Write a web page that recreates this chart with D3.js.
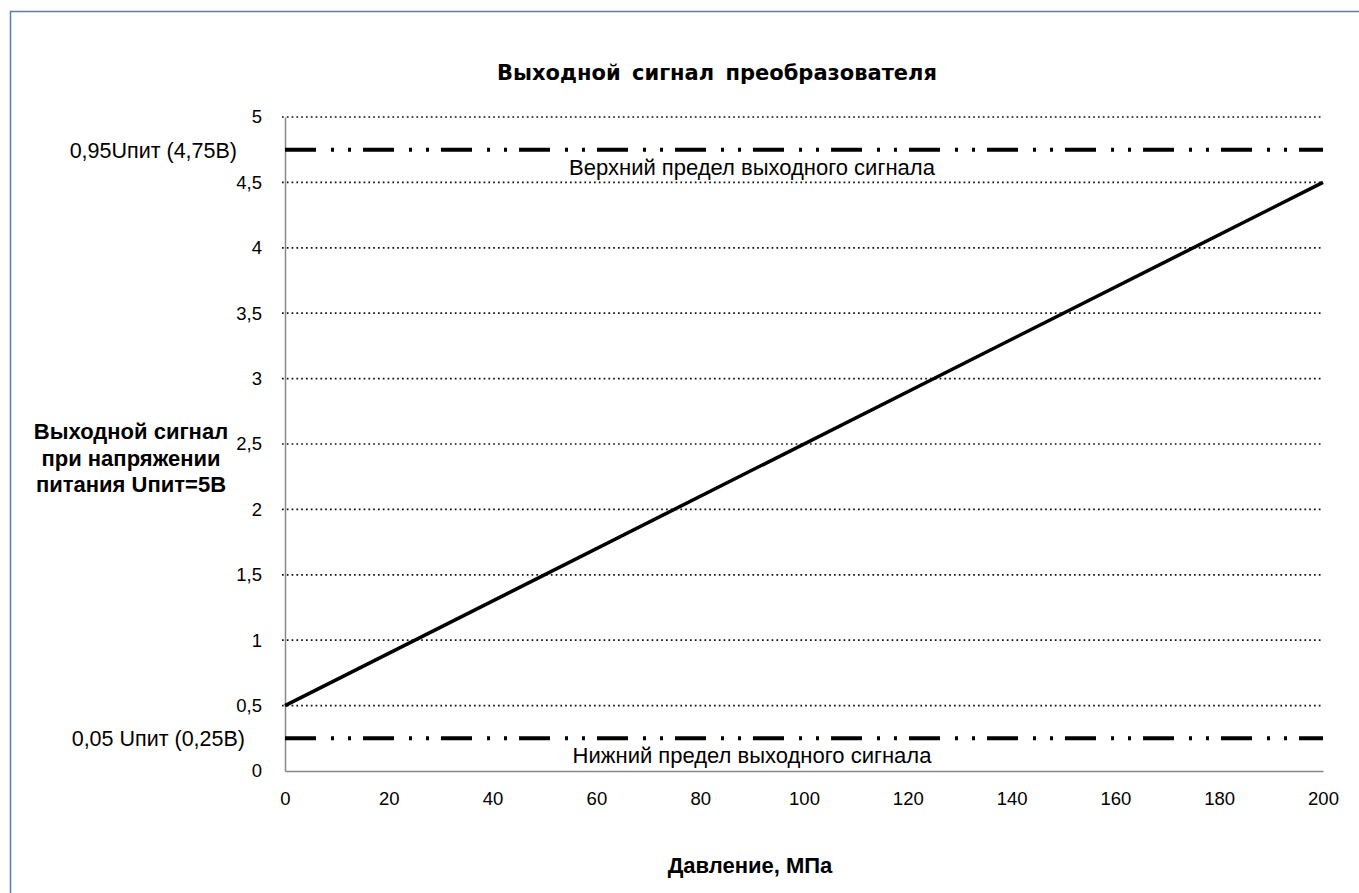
<!DOCTYPE html>
<html><head><meta charset="utf-8">
<script src="https://cdn.jsdelivr.net/npm/d3@7"></script>
<style>
html,body{margin:0;padding:0;background:#fff;}
svg{display:block;}
</style></head>
<body>
<svg id="chart" width="1359" height="893"></svg>
<script>
const title = "Выходной сигнал преобразователя";
const xTitle = "Давление, МПа";
const yTitleLines = ["Выходной сигнал", "при напряжении", "питания Uпит=5В"];
const pressure = [0, 200];
const signal = [0.5, 4.5];
const xTicks = [0, 20, 40, 60, 80, 100, 120, 140, 160, 180, 200];
const yTicks = [0, 0.5, 1, 1.5, 2, 2.5, 3, 3.5, 4, 4.5, 5];
const limitValues = [4.75, 0.25];
const limitAxisLabels = ["0,95Uпит (4,75В)", "0,05 Uпит (0,25В)"];
const limitNames = ["Верхний предел выходного сигнала", "Нижний предел выходного сигнала"];

const svg = d3.select("#chart");
const font = "'Liberation Sans', Arial, sans-serif";
const m = {left: 285, right: 1323, top: 117, bottom: 771};
const x = d3.scaleLinear().domain([0, 200]).range([m.left, m.right]);
const y = d3.scaleLinear().domain([0, 5]).range([m.bottom, m.top]);

// outer border
svg.append("rect").attr("x", 10.5).attr("y", 11.5).attr("width", 1400).attr("height", 1000)
  .attr("fill", "none").attr("stroke", "#4F81BD").attr("stroke-width", 1.5);

// gridlines
svg.append("g").selectAll("line").data(yTicks.filter(d => d > 0)).join("line")
  .attr("x1", m.left - 3).attr("x2", m.right).attr("y1", d => y(d)).attr("y2", d => y(d))
  .attr("stroke", "#111").attr("stroke-width", 1.7).attr("stroke-dasharray", "1.7,3.1");

// axes
const yAxis = d3.axisLeft(y).tickValues(yTicks).tickSize(0).tickPadding(23)
  .tickFormat(d => String(d).replace(".", ","));
const gy = svg.append("g").attr("transform", `translate(${m.left},0)`).call(yAxis);
gy.select(".domain").attr("stroke", "#888").attr("stroke-width", 1.5);
gy.selectAll("text").attr("font-family", font).attr("font-size", 18.5).attr("fill", "#000");

const xAxis = d3.axisBottom(x).tickValues(xTicks).tickSize(0).tickPadding(21);
const gx = svg.append("g").attr("transform", `translate(0,${m.bottom})`).call(xAxis);
gx.select(".domain").attr("stroke", "#888").attr("stroke-width", 1.5);
gx.selectAll("text").attr("font-family", font).attr("font-size", 18.5).attr("fill", "#000");

// limit lines
svg.append("g").selectAll("line").data(limitValues).join("line")
  .attr("x1", x(0)).attr("x2", x(200)).attr("y1", d => y(d)).attr("y2", d => y(d))
  .attr("stroke", "#000").attr("stroke-width", 4)
  .attr("stroke-dasharray", "31,15,3,14,3,12");

// limit labels
svg.append("g").selectAll("text").data(limitAxisLabels).join("text")
  .attr("x", (d, i) => i === 0 ? 237 : 245).attr("y", (d, i) => y(limitValues[i]) + 8)
  .attr("text-anchor", "end").attr("font-family", font).attr("font-size", 21.5).attr("fill", "#000")
  .text(d => d);
svg.append("g").selectAll("text").data(limitNames).join("text")
  .attr("x", 752).attr("y", (d, i) => y(limitValues[i]) + 25)
  .attr("text-anchor", "middle").attr("font-family", font).attr("font-size", 22).attr("fill", "#000")
  .text(d => d);

// signal line
const line = d3.line().x((d, i) => x(pressure[i])).y(d => y(d));
svg.append("path").datum(signal).attr("d", line)
  .attr("fill", "none").attr("stroke", "#000").attr("stroke-width", 3.5);

// titles
svg.append("text").attr("x", 717).attr("y", 80).attr("text-anchor", "middle")
  .attr("font-family", "'DejaVu Sans', Verdana, sans-serif").attr("font-weight", "bold")
  .attr("font-size", 21).attr("word-spacing", 4).attr("fill", "#000").text(title);
svg.append("text").attr("x", 750).attr("y", 873).attr("text-anchor", "middle")
  .attr("font-family", font).attr("font-weight", "bold").attr("font-size", 22).attr("fill", "#000").text(xTitle);
svg.append("g").selectAll("text").data(yTitleLines).join("text")
  .attr("x", 131).attr("y", (d, i) => 439 + i * 26.5).attr("text-anchor", "middle")
  .attr("font-family", font).attr("font-weight", "bold").attr("font-size", 22).attr("fill", "#000").text(d => d);
</script>
</body></html>
